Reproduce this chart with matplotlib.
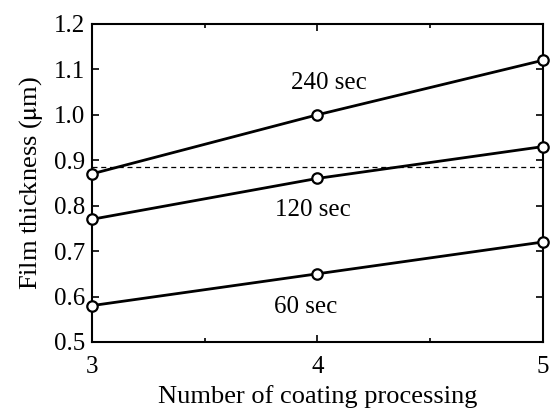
import matplotlib
matplotlib.use("Agg")
import matplotlib.pyplot as plt
from matplotlib.ticker import MultipleLocator

plt.rcParams['font.family'] = ['Liberation Serif', 'DejaVu Serif']
plt.rcParams['mathtext.fontset'] = 'stix'

# data
coats = [3, 4, 5]
t60 = [0.58, 0.65, 0.72]
t120 = [0.77, 0.86, 0.93]
t240 = [0.87, 1.00, 1.12]
series = [t60, t120, t240]
labels = ['60 sec', '120 sec', '240 sec']
label_pos = [(3.95, 0.577), (3.98, 0.79), (4.05, 1.07)]
ref_level = 0.885

fig = plt.figure(figsize=(5.5, 4.13), dpi=100)
ax = fig.add_axes([0.167, 0.172, 0.820, 0.770])

for ys in series:
    ax.plot(coats, ys, color='black', lw=2.0, marker='o', ms=7.5,
            mfc='white', mec='black', mew=1.6, clip_on=False, zorder=3)

ax.axhline(ref_level, color='black', lw=0.9, ls=(0, (4, 3)))

for lab, (x, y) in zip(labels, label_pos):
    ax.text(x, y, lab, ha='center', va='center', fontsize=18)

ax.set_xlim(3, 5)
ax.set_ylim(0.5, 1.2)
ax.set_xticks(coats)
ax.xaxis.set_minor_locator(MultipleLocator(0.5))
ax.yaxis.set_major_locator(MultipleLocator(0.1))
ax.yaxis.set_major_formatter(plt.FormatStrFormatter('%.1f'))
ax.tick_params(which='both', direction='in', top=True, right=True,
               labelsize=18, width=1.2)
ax.tick_params(which='major', length=5)
ax.tick_params(which='minor', length=3)
ax.tick_params(axis='x', which='major', pad=10)
ax.tick_params(axis='y', which='major', pad=5)
for s in ax.spines.values():
    s.set_linewidth(1.5)

ax.set_xlabel('Number of coating processing', fontsize=19, labelpad=5)
ax.set_ylabel(r'Film thickness ($\mathrm{\mu}$m)', fontsize=19, labelpad=6)

fig.savefig('out.png', dpi=100)
